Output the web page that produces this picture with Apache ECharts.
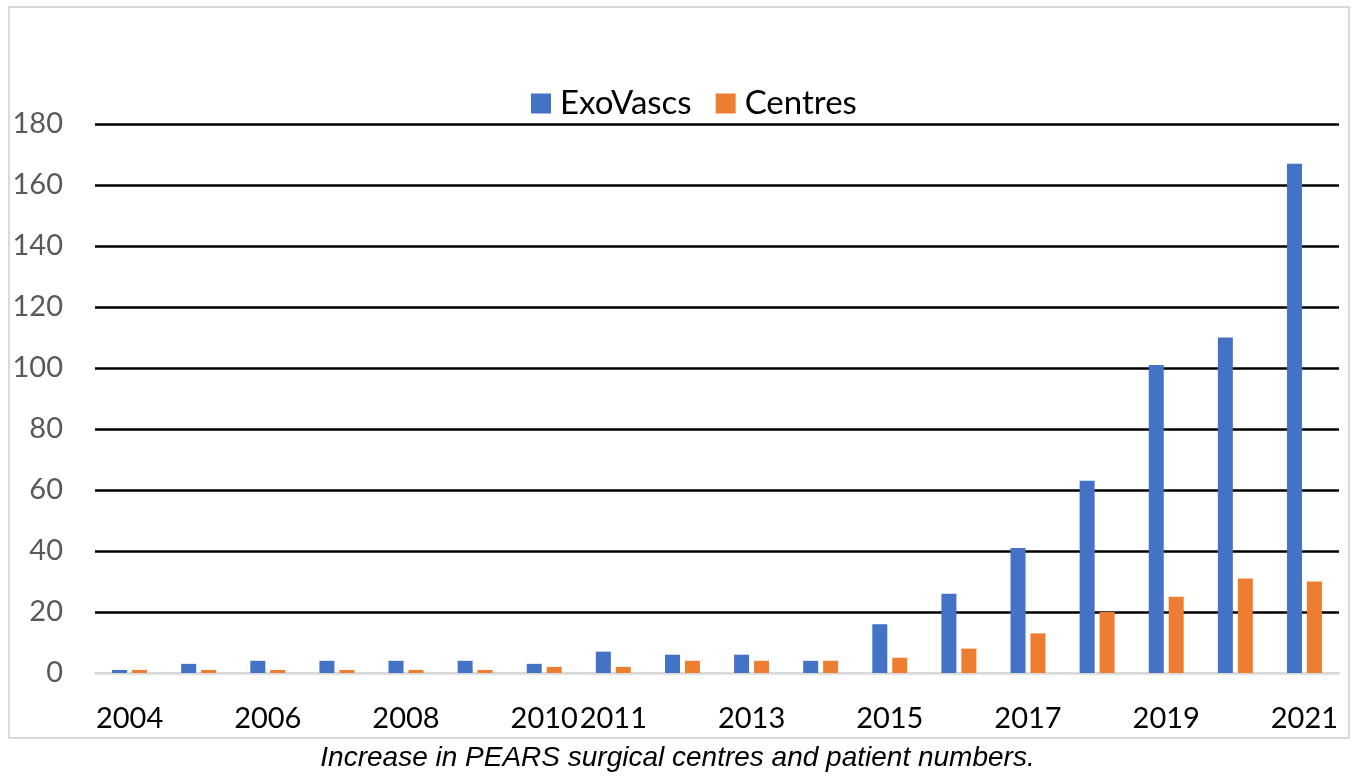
<!DOCTYPE html>
<html>
<head>
<meta charset="utf-8">
<script src="https://cdn.jsdelivr.net/npm/echarts@6/dist/echarts.min.js"></script>
<style>
html,body{margin:0;padding:0;background:#fff;}
#chart{width:1355px;height:776px;}
</style>
</head>
<body>
<div id="chart"></div>
<script>
const categories = ['2004','2005','2006','2007','2008','2009','2010','2011','2012','2013','2014','2015','2016','2017','2018','2019','2020','2021'];
const exoVascs = [1,3,4,4,4,4,3,7,6,6,4,16,26,41,63,101,110,167];
const centres = [1,1,1,1,1,1,2,2,4,4,4,5,8,13,20,25,31,30];
const shownXLabels = ['2004','2006','2008','2010','2011','2013','2015','2017','2019','2021'];
const yTicks = [0,20,40,60,80,100,120,140,160,180];
const caption = 'Increase in PEARS surgical centres and patient numbers.';

const chart = echarts.init(document.getElementById('chart'));
const gridColors = yTicks.map((v, i) => i === 0 ? '#d9d9d9' : '#000000');
chart.setOption({
  animation: false,
  backgroundColor: '#ffffff',
  graphic: [
    {type:'rect', shape:{x:9, y:7, width:1340, height:731}, style:{fill:'none', stroke:'#d9d9d9', lineWidth:2}, z:-1},
    {type:'text', left:'center', top:744, style:{text:caption, font:'italic 28px "Liberation Sans", Arial, sans-serif', fill:'#000000'}}
  ],
  legend: {
    data: ['ExoVascs','Centres'],
    top: 82,
    left: 526,
    itemWidth: 20,
    itemHeight: 20,
    itemGap: 24,
    icon: 'rect',
    textStyle: {fontFamily: 'Lato', fontSize: 33, color: '#000000', padding: [0,0,0,4]}
  },
  grid: {left: 95, right: 16, top: 124, bottom: 103, containLabel: false},
  xAxis: {
    type: 'category',
    data: categories,
    axisLine: {show: true, lineStyle: {color: '#d9d9d9', width: 2}},
    axisTick: {show: false},
    axisLabel: {
      interval: function (index, value) { return shownXLabels.indexOf(value) !== -1; },
      margin: 31,
      fontFamily: 'Lato',
      fontSize: 29,
      color: '#000000'
    }
  },
  yAxis: {
    type: 'value',
    min: 0,
    max: 180,
    interval: 20,
    axisLine: {show: false},
    axisTick: {show: false},
    axisLabel: {margin: 32, fontFamily: 'Lato', fontSize: 29, color: '#595959'},
    splitLine: {show: true, lineStyle: {color: gridColors, width: 2.5}}
  },
  series: [
    {name: 'ExoVascs', type: 'bar', data: exoVascs, barWidth: 15, barGap: '33%', itemStyle: {color: '#4472C4'}},
    {name: 'Centres', type: 'bar', data: centres, barWidth: 15, itemStyle: {color: '#ED7D31'}}
  ]
});
</script>
</body>
</html>
